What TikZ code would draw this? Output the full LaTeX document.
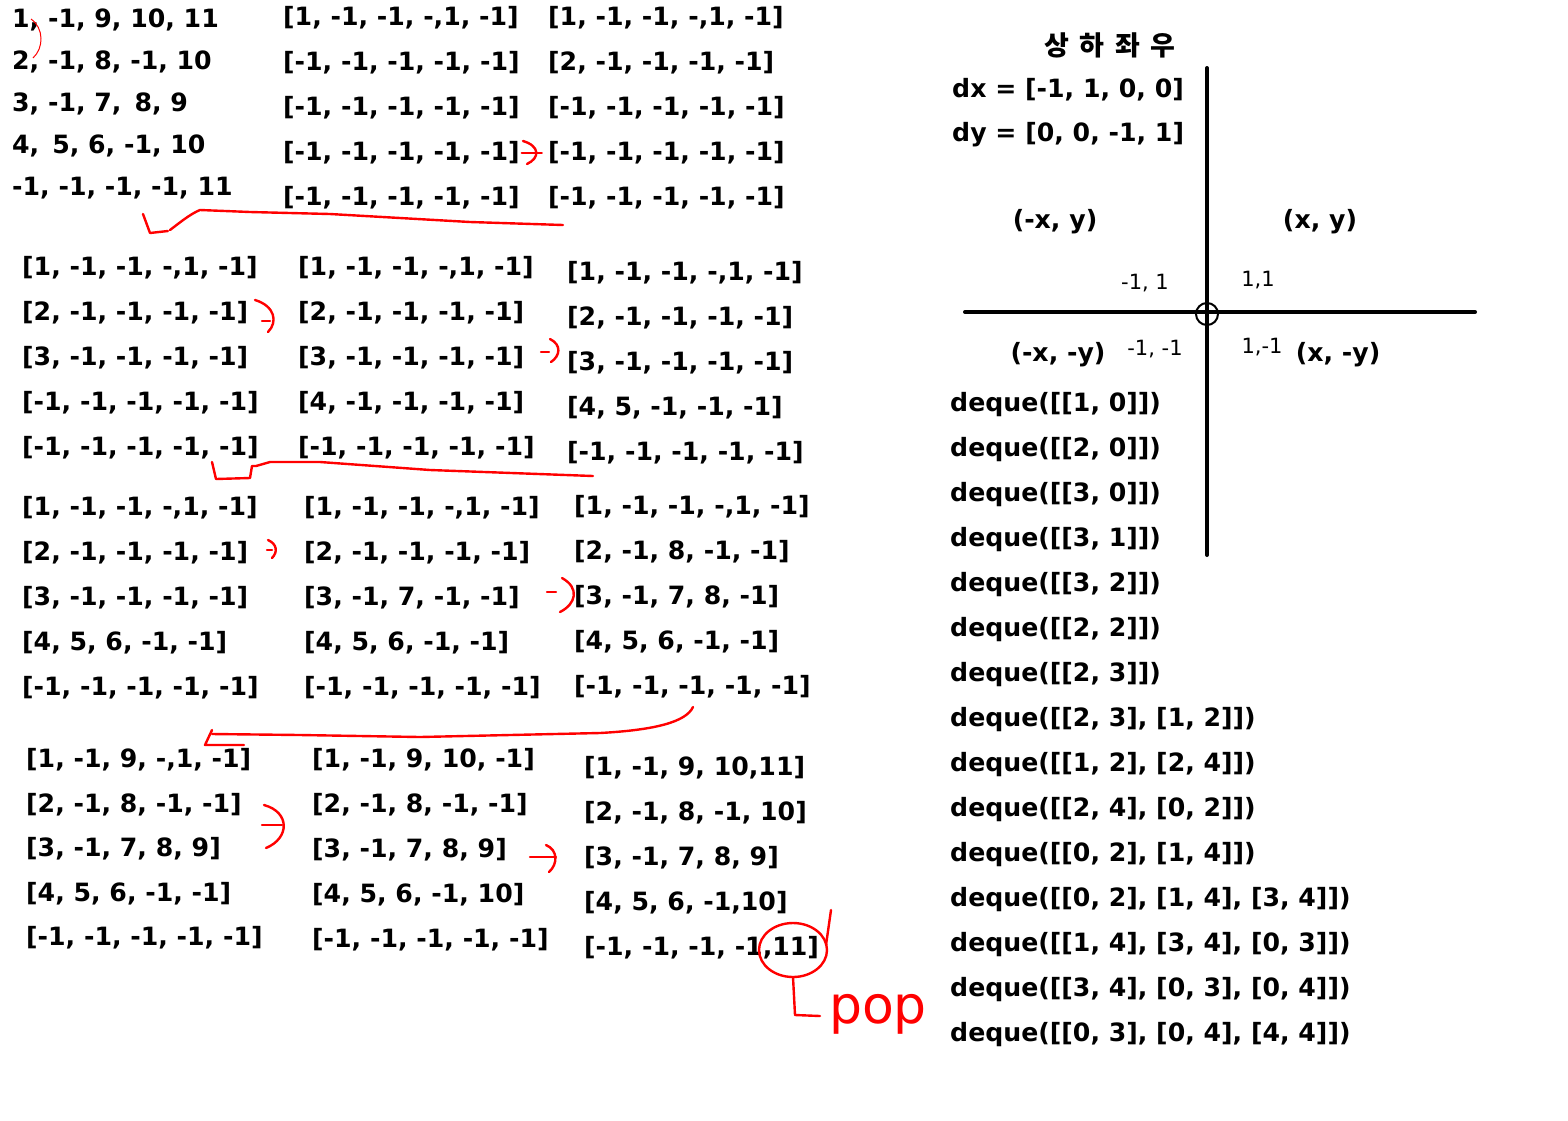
\documentclass[tikz,border=0pt]{standalone}
\usepackage{fontspec}
\setmainfont{DejaVu Sans}
\newfontfamily\krfont{Noto Sans CJK KR}
\usetikzlibrary{positioning,calc}

\begin{document}
\begin{tikzpicture}[
    x=1pt, y=-1pt,
    txt/.style={anchor=west, inner sep=0pt, font=\fontsize{25.2}{30}\selectfont\bfseries},
    lbl/.style={inner sep=0pt, font=\fontsize{25.2}{30}\selectfont\bfseries},
    tiny/.style={inner sep=0pt, font=\fontsize{21}{23}\selectfont},
    axis/.style={line width=4pt, line cap=round},
    redpen/.style={draw=red, line width=2.4pt, line cap=round, line join=round},
    thinpen/.style={draw=red, line width=1pt},
  ]
  \useasboundingbox (0,0) rectangle (1568,1120);

  % ===== raw input =====
  \foreach \t [count=\r] in {{1, -1, 9, 10, 11},{2, -1, 8, -1, 10},{3, -1, 7,\, 8, 9},{4,\, 5, 6, -1, 10},{-1, -1, -1, -1, 11}}
    \node[txt] (raw\r) at (12, {20+42*(\r-1)}) {\t};

  % ===== block 0 =====
  \foreach \t [count=\r] in {{[1, -1, -1, -,1, -1]},{[-1, -1, -1, -1, -1]},{[-1, -1, -1, -1, -1]},{[-1, -1, -1, -1, -1]},{[-1, -1, -1, -1, -1]}}
    \node[txt] (a2r\r) at (283, {18+45*(\r-1)}) {\t};
  \foreach \t [count=\r] in {{[1, -1, -1, -,1, -1]},{[2, -1, -1, -1, -1]},{[-1, -1, -1, -1, -1]},{[-1, -1, -1, -1, -1]},{[-1, -1, -1, -1, -1]}}
    \node[txt] (a3r\r) at (548, {18+45*(\r-1)}) {\t};

  % ===== block 1 =====
  \foreach \t [count=\r] in {{[1, -1, -1, -,1, -1]},{[2, -1, -1, -1, -1]},{[3, -1, -1, -1, -1]},{[-1, -1, -1, -1, -1]},{[-1, -1, -1, -1, -1]}}
    \node[txt] (b1r\r) at (22, {268+45*(\r-1)}) {\t};
  \foreach \t [count=\r] in {{[1, -1, -1, -,1, -1]},{[2, -1, -1, -1, -1]},{[3, -1, -1, -1, -1]},{[4, -1, -1, -1, -1]},{[-1, -1, -1, -1, -1]}}
    \node[txt] (b2r\r) at (298, {268+45*(\r-1)}) {\t};
  \foreach \t [count=\r] in {{[1, -1, -1, -,1, -1]},{[2, -1, -1, -1, -1]},{[3, -1, -1, -1, -1]},{[4, 5, -1, -1, -1]},{[-1, -1, -1, -1, -1]}}
    \node[txt] (b3r\r) at (567, {273+45*(\r-1)}) {\t};

  % ===== block 2 =====
  \foreach \t [count=\r] in {{[1, -1, -1, -,1, -1]},{[2, -1, -1, -1, -1]},{[3, -1, -1, -1, -1]},{[4, 5, 6, -1, -1]},{[-1, -1, -1, -1, -1]}}
    \node[txt] (c1r\r) at (22, {508+45*(\r-1)}) {\t};
  \foreach \t [count=\r] in {{[1, -1, -1, -,1, -1]},{[2, -1, -1, -1, -1]},{[3, -1, 7, -1, -1]},{[4, 5, 6, -1, -1]},{[-1, -1, -1, -1, -1]}}
    \node[txt] (c2r\r) at (304, {508+45*(\r-1)}) {\t};
  \foreach \t [count=\r] in {{[1, -1, -1, -,1, -1]},{[2, -1, 8, -1, -1]},{[3, -1, 7, 8, -1]},{[4, 5, 6, -1, -1]},{[-1, -1, -1, -1, -1]}}
    \node[txt] (c3r\r) at (574, {507+45*(\r-1)}) {\t};

  % ===== block 3 =====
  \foreach \t [count=\r] in {{[1, -1, 9, -,1, -1]},{[2, -1, 8, -1, -1]},{[3, -1, 7, 8, 9]},{[4, 5, 6, -1, -1]},{[-1, -1, -1, -1, -1]}}
    \node[txt] (d1r\r) at (26, {760+44.5*(\r-1)}) {\t};
  \foreach \t [count=\r] in {{[1, -1, 9, 10, -1]},{[2, -1, 8, -1, -1]},{[3, -1, 7, 8, 9]},{[4, 5, 6, -1, 10]},{[-1, -1, -1, -1, -1]}}
    \node[txt] (d2r\r) at (312, {760+45*(\r-1)}) {\t};
  \foreach \t [count=\r] in {{[1, -1, 9, 10,11]},{[2, -1, 8, -1, 10]},{[3, -1, 7, 8, 9]},{[4, 5, 6, -1,10]},{[-1, -1, -1, -1,11]}}
    \node[txt] (d3r\r) at (584, {768+45*(\r-1)}) {\t};

  % ===== directions =====
  \node[lbl, font=\krfont\fontsize{27}{30}\selectfont\bfseries] (title) at (1110, 45) {상\, 하\, 좌\, 우};
  \node[txt] (dx) at (952, 90) {dx = [-1, 1, 0, 0]};
  \node[txt] (dy) at (952, 135) {dy = [0, 0, -1, 1]};

  % axes
  \coordinate (top) at (1207, 68);
  \coordinate (bot) at (1207, 555);
  \coordinate (lft) at (965, 312);
  \coordinate (rgt) at (1475, 312);
  \coordinate (o) at (1207, 314);
  \draw[axis] (top) -- (bot);
  \draw[axis] (lft) -- (rgt);
  \draw[line width=2pt] (o) circle (11);

  \node[lbl] (q2) at (1055, 222) {(-x, y)};
  \node[lbl] (q1) at (1320, 222) {(x, y)};
  \node[lbl] (q3) at (1058, 355) {(-x, -y)};
  \node[lbl] (q4) at (1338, 355) {(x, -y)};
  \node[tiny] (s2) at (1145, 283) {-1, 1};
  \node[tiny] (s1) at (1258, 280) {1,1};
  \node[tiny] (s3) at (1155, 349) {-1, -1};
  \node[tiny] (s4) at (1262, 347) {1,-1};

  % queue states
  \foreach \t [count=\r] in {{deque([[1, 0]])},{deque([[2, 0]])},{deque([[3, 0]])},{deque([[3, 1]])},{deque([[3, 2]])},{deque([[2, 2]])},{deque([[2, 3]])},{deque([[2, 3], [1, 2]])},{deque([[1, 2], [2, 4]])},{deque([[2, 4], [0, 2]])},{deque([[0, 2], [1, 4]])},{deque([[0, 2], [1, 4], [3, 4]])},{deque([[1, 4], [3, 4], [0, 3]])},{deque([[3, 4], [0, 3], [0, 4]])},{deque([[0, 3], [0, 4], [4, 4]])}}
    \node[txt] (q\r) at (950, {405+45*(\r-1)}) {\t};

  % ===== red pen marks =====
  \draw[thinpen] (31, 19) .. controls (44, 28) and (44, 48) .. (33, 58);
  \draw[redpen] (a2r4.east) ++(2, 0) -- ++(20, 0);
  \draw[redpen] (523, 141) .. controls (540, 146) and (540, 158) .. (527, 164);
  \draw[redpen] (563, 225) -- (470, 222) -- (330, 214) -- (250, 212) -- (200, 210)
    .. controls (190, 214) and (178, 224) .. (170, 230);
  \draw[redpen] (143, 214) -- (150, 233) -- (168, 231);

  \draw[redpen] (255, 300) .. controls (275, 306) and (278, 322) .. (268, 332);
  \draw[redpen] (262, 321) -- (270, 321);
  \draw[redpen] (550, 339) .. controls (562, 345) and (560, 356) .. (551, 362);
  \draw[redpen] (541, 352) -- (549, 352);
  \draw[redpen] (593, 476) -- (430, 470) -- (320, 462) -- (270, 462) -- (256, 466)
    -- (252, 466) -- (250, 478) -- (216, 479) -- (212, 462);

  \draw[redpen] (268, 540) .. controls (277, 544) and (278, 552) .. (272, 558);
  \draw[redpen] (267, 550) -- (272, 550);
  \draw[redpen] (562, 578) .. controls (580, 588) and (576, 604) .. (560, 612);
  \draw[redpen] (547, 592) -- (556, 592);
  \draw[redpen] (693, 707) .. controls (686, 722) and (655, 730) .. (600, 733)
    -- (420, 737) -- (300, 735) -- (212, 734);
  \draw[redpen] (212, 730) -- (205, 745) -- (244, 745);

  \draw[redpen] (264, 805) .. controls (290, 812) and (290, 838) .. (266, 848);
  \draw[redpen] (262, 825) -- (282, 825);
  \draw[redpen] (530, 857) -- (556, 857);
  \draw[redpen] (546, 845) .. controls (558, 850) and (558, 864) .. (549, 872);

  \draw[redpen] (793, 950) ellipse (34 and 27);
  \draw[redpen] (831, 910) -- (826, 945);
  \draw[redpen] (793, 977) -- (795, 1015) -- (820, 1016);
  \node[inner sep=0pt, text=red, font=\fontsize{52}{54}\selectfont] (pop) at (878, 1014) {pop};
\end{tikzpicture}
\end{document}
